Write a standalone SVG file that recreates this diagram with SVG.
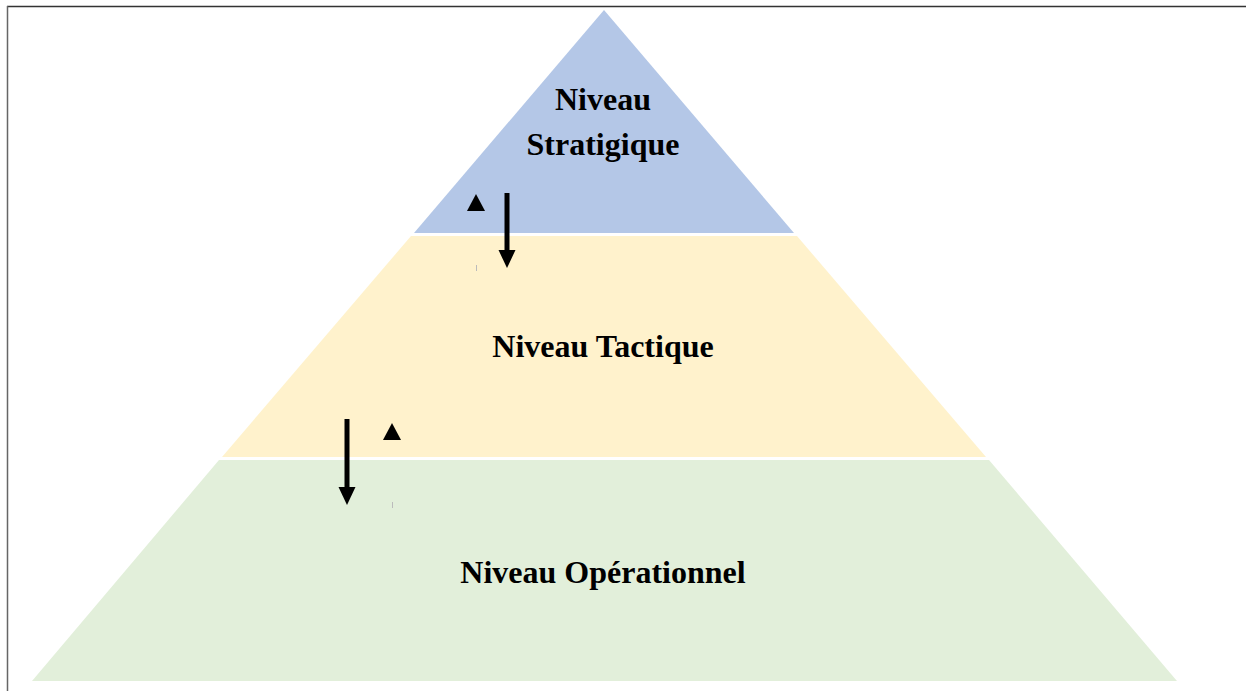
<svg xmlns="http://www.w3.org/2000/svg" width="1246" height="691" viewBox="0 0 1246 691">
  <style>
    .label { font-family: "Liberation Serif", "Times New Roman", serif; font-weight: bold; font-size: 32px; fill: #000; text-anchor: middle; }
    .shaft { stroke: #000; stroke-width: 5; fill: none; }
    .head { fill: #000; }
    .tick { stroke: #bbb; stroke-width: 1; }
  </style>
  <defs>
    <!-- downward arrowhead, tip at origin -->
    <path id="down-head" class="head" d="M-8.5,-18 L8.5,-18 L0,0 Z"/>
    <!-- small upward triangle, tip at origin -->
    <path id="up-tri" class="head" d="M0,0 L9,17 L-9,17 Z"/>
  </defs>
  <rect width="1246" height="691" fill="#fff"/>
  <!-- frame -->
  <line x1="7" y1="6.5" x2="1246" y2="6.5" stroke="#333" stroke-width="1.5"/>
  <line x1="7.5" y1="6" x2="7.5" y2="691" stroke="#666" stroke-width="1.5"/>

  <g id="strategique">
    <polygon points="604,10 414,233 794,233" fill="#B4C7E7"/>
    <text class="label" x="603" y="110">Niveau</text>
    <text class="label" x="603" y="155">Stratigique</text>
  </g>
  <g id="tactique">
    <polygon points="411,236 797,236 986,457 222,457" fill="#FFF2CC"/>
    <text class="label" x="603" y="357">Niveau Tactique</text>
  </g>
  <g id="operationnel">
    <polygon points="219,460 989,460 1177,681 32,681" fill="#E2EFDA"/>
    <text class="label" x="603" y="583">Niveau Opérationnel</text>
  </g>

  <g id="connectors">
    <line class="shaft" x1="507" y1="193" x2="507" y2="252"/>
    <use href="#down-head" x="507" y="268"/>
    <use href="#up-tri" x="476" y="194"/>
    <line class="tick" x1="476.5" y1="265" x2="476.5" y2="271"/>

    <line class="shaft" x1="347" y1="419" x2="347" y2="489"/>
    <use href="#down-head" x="347" y="505"/>
    <use href="#up-tri" x="392" y="423"/>
    <line class="tick" x1="392.5" y1="502" x2="392.5" y2="508"/>
  </g>
</svg>
